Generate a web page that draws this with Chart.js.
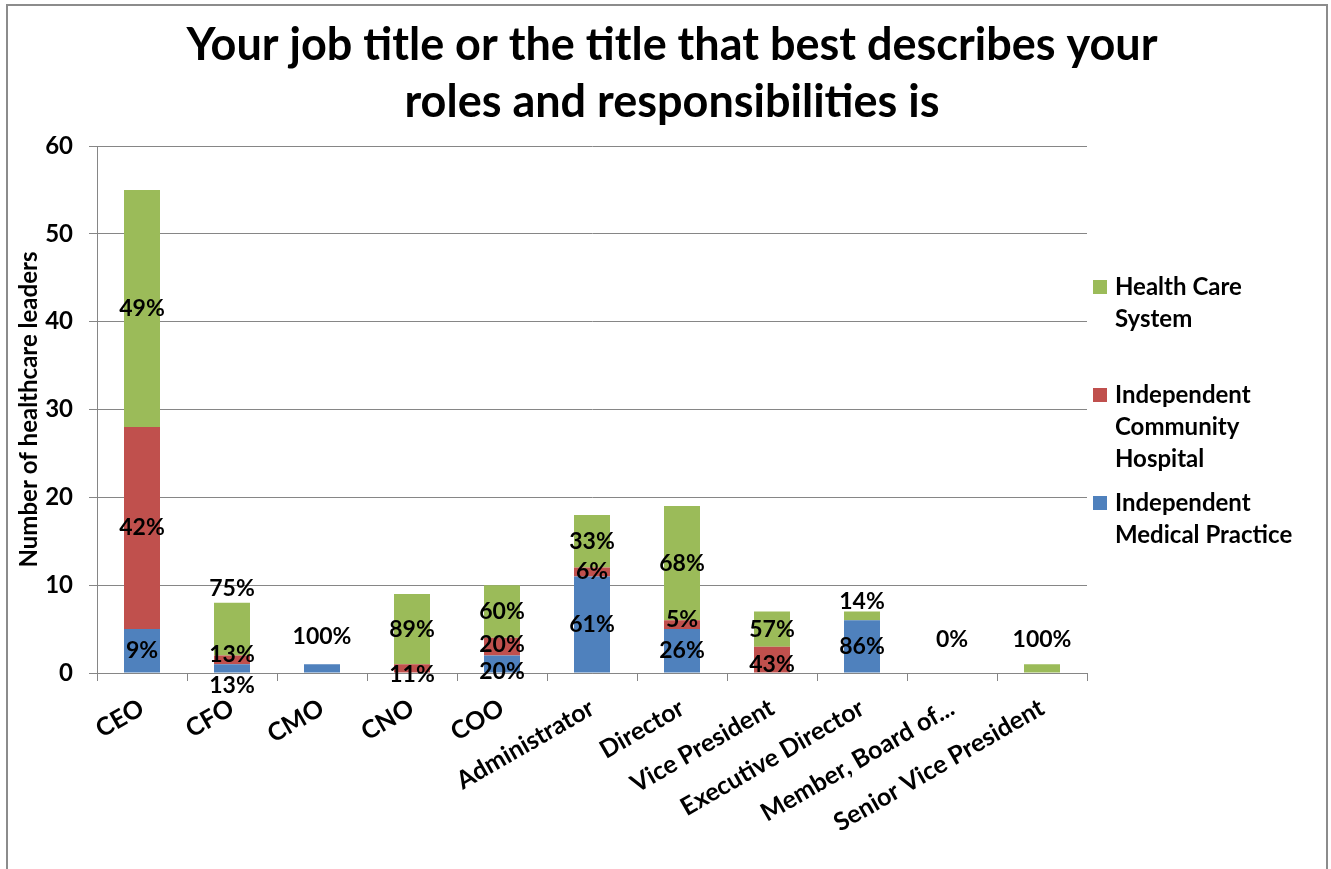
<!DOCTYPE html>
<html>
<head>
<meta charset="utf-8">
<title>Job titles</title>
<script src="https://cdn.jsdelivr.net/npm/chart.js@4.4.1/dist/chart.umd.min.js"></script>
<style>
  html, body { margin: 0; padding: 0; background: #fff; overflow: hidden; }
  #frame { position: absolute; left: 6px; top: 4px; width: 1322px; height: 900px; border: 2px solid #8c8c8c; box-sizing: border-box; }
  #wrap { position: absolute; left: 0; top: 0; width: 1331px; height: 869px; }
</style>
</head>
<body>
<div id="frame"></div>
<div id="wrap"><canvas id="myChart"></canvas></div>
<script>
// --- Data ---
const titleLines = ['Your job title or the title that best describes your', 'roles and responsibilities is'];
const categories = ['CEO', 'CFO', 'CMO', 'CNO', 'COO', 'Administrator', 'Director', 'Vice President',
                    'Executive Director', 'Member, Board of...', 'Senior Vice President'];
const seriesNames = ['Independent Medical Practice', 'Independent Community Hospital', 'Health Care System'];
const medicalPractice   = [5, 1, 1, 0, 2, 11, 5, 0, 6, 0, 0];
const communityHospital = [23, 1, 0, 1, 2, 1, 1, 3, 0, 0, 0];
const careSystem        = [27, 6, 0, 8, 6, 6, 13, 4, 1, 0, 1];
const yTicks = [0, 10, 20, 30, 40, 50, 60];

const colors = ['#4F81BD', '#C0504D', '#9BBB59'];

// label nudges (px) - excel moved some labels around
const labelNudge = [
  [0, 17, -32, 0, 8, 0, 0, 0, 0, -33, 0],
  [0, -5, 0, 6, -2, 0, -5, 5, 0, 0, 0],
  [0, -41, 0, 0, 0, 0, 0, 0, -14, 0, -29]
];

const allSeries = [medicalPractice, communityHospital, careSystem];
const totals = categories.map((c, i) => allSeries.reduce((s, arr) => s + arr[i], 0));

// --- Plugins ---
const titlePlugin = {
  id: 'titleLines',
  afterDraw(chart) {
    const ctx = chart.ctx;
    ctx.save();
    ctx.font = 'bold 45px Lato';
    ctx.fillStyle = '#000';
    ctx.textAlign = 'center';
    ctx.textBaseline = 'middle';
    titleLines.forEach((t, i) => ctx.fillText(t, 672, 45 + i * 57));
    ctx.restore();
  }
};

const pctLabels = {
  id: 'pctLabels',
  afterDatasetsDraw(chart) {
    const ctx = chart.ctx;
    ctx.save();
    ctx.font = 'bold 23px Lato';
    ctx.fillStyle = '#000';
    ctx.textAlign = 'center';
    ctx.textBaseline = 'middle';
    chart.data.datasets.forEach((ds, di) => {
      const meta = chart.getDatasetMeta(di);
      meta.data.forEach((bar, i) => {
        const v = ds.data[i];
        let text;
        if (totals[i] === 0) {
          if (di !== 0) return;
          text = '0%';
        } else if (v === 0) {
          return;
        } else {
          text = Math.round(v / totals[i] * 100) + '%';
        }
        const y = (bar.y + bar.base) / 2 + labelNudge[di][i];
        ctx.fillText(text, bar.x, y);
      });
    });
    ctx.restore();
  }
};

function wrapWords(ctx, text, maxW) {
  const words = text.split(' ');
  const lines = [];
  let cur = '';
  words.forEach(w => {
    const test = cur ? cur + ' ' + w : w;
    if (ctx.measureText(test).width > maxW && cur) { lines.push(cur); cur = w; }
    else cur = test;
  });
  if (cur) lines.push(cur);
  return lines;
}

const sideLegend = {
  id: 'sideLegend',
  afterDraw(chart) {
    const ctx = chart.ctx;
    const x = chart.chartArea.right + 6;
    ctx.save();
    ctx.font = 'bold 24px Lato';
    ctx.textAlign = 'left';
    ctx.textBaseline = 'middle';
    // top of legend is the last dataset (reversed order)
    const order = chart.data.datasets.map((d, i) => i).reverse();
    order.forEach((di, k) => {
      const ds = chart.data.datasets[di];
      const y0 = 287 + k * 108;
      ctx.fillStyle = ds.backgroundColor;
      ctx.fillRect(x, y0 - 7, 14, 14);
      ctx.fillStyle = '#000';
      wrapWords(ctx, ds.label, 195).forEach((ln, j) => ctx.fillText(ln, x + 22, y0 + j * 32));
    });
    ctx.restore();
  }
};

// --- Chart ---
Chart.defaults.font.family = 'Lato';
Chart.defaults.font.weight = 'bold';
Chart.defaults.color = '#000';

const ctx = document.getElementById('myChart').getContext('2d');
const myChart = new Chart(ctx, {
  type: 'bar',
  data: {
    labels: categories,
    datasets: allSeries.map((arr, i) => ({
      label: seriesNames[i],
      data: arr,
      backgroundColor: colors[i],
      borderWidth: 0,
      barPercentage: 0.4,
      categoryPercentage: 1.0
    }))
  },
  options: {
    responsive: true,
    maintainAspectRatio: false,
    animation: false,
    layout: { padding: { top: 146, right: 244, left: 0, bottom: 0 } },
    plugins: {
      legend: { display: false },
      title: { display: false },
      tooltip: { enabled: false }
    },
    scales: {
      x: {
        stacked: true,
        grid: { offset: true, drawOnChartArea: false, tickLength: 8, color: '#868686' },
        border: { color: '#868686' },
        ticks: { autoSkip: false, minRotation: 30, maxRotation: 30, padding: 12, font: { size: 25 } },
        afterFit(s) { s.height = 196; }
      },
      y: {
        stacked: true,
        min: 0,
        max: 60,
        afterBuildTicks(s) { s.ticks = yTicks.map(v => ({ value: v })); },
        grid: { color: '#868686', tickLength: 8 },
        border: { color: '#868686' },
        ticks: { padding: 16, font: { size: 24 } },
        title: {
          display: true,
          text: 'Number of healthcare leaders',
          font: { size: 24 },
          padding: { top: 15, bottom: 0 }
        },
        afterFit(s) { s.width = 97; }
      }
    }
  },
  plugins: [titlePlugin, pctLabels, sideLegend]
});
</script>
</body>
</html>
